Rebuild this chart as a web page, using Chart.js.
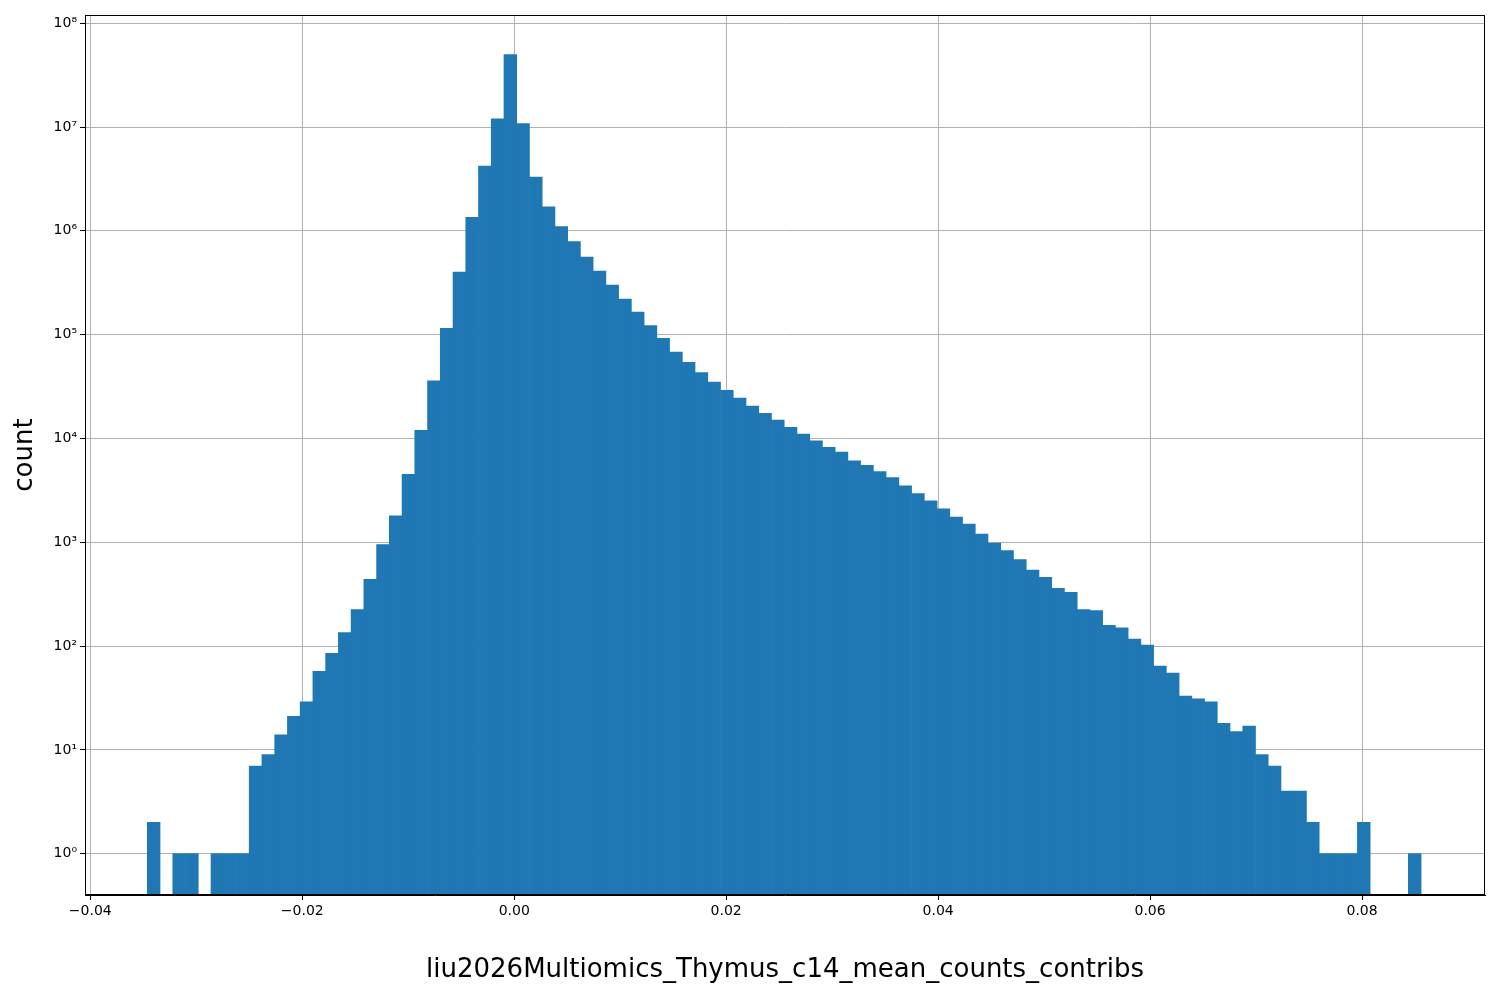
<!DOCTYPE html>
<html>
<head>
<meta charset="utf-8">
<script src="https://cdn.jsdelivr.net/npm/chart.js@4"></script>
<style>
  html, body { margin: 0; padding: 0; background: #fff; }
  #wrap { width: 1500px; height: 1000px; }
</style>
</head>
<body>
<div id="wrap"><canvas id="histChart" width="1500" height="1000"></canvas></div>
<script>
// histogram: 100 bins from binStart, width binWidth
const binStart = -0.03462;
const binWidth = 0.0012019;
const counts = [
  2, 0, 1, 1, 0, 1, 1, 1, 7, 9,
  14, 21, 29, 57, 85, 135, 225, 440, 950, 1800,
  4500, 12000, 36000, 115000, 400000, 1350000, 4200000, 12000000, 50000000, 10800000,
  3300000, 1700000, 1100000, 790000, 560000, 410000, 300000, 220000, 165000, 122000,
  92000, 68000, 54000, 43000, 35000, 29000, 24500, 20500, 17500, 15000,
  12800, 11000, 9500, 8200, 7400, 6100, 5500, 4800, 4200, 3500,
  2950, 2500, 2100, 1750, 1500, 1200, 980, 830, 680, 540,
  460, 360, 330, 225, 220, 158, 150, 117, 102, 64,
  55, 33, 31, 29, 18, 15, 17, 9, 7, 4,
  4, 2, 1, 1, 1, 2, 0, 0, 0, 1
];
const xTicks = [-0.04, -0.02, 0.00, 0.02, 0.04, 0.06, 0.08];
const yTicks = [1, 10, 100, 1e3, 1e4, 1e5, 1e6, 1e7, 1e8];
const sup = ['⁰','¹','²','³','⁴','⁵','⁶','⁷','⁸'];

const points = counts.map((c, i) => ({
  x: binStart + binWidth * (i + 0.5),
  y: c > 0 ? c : null
}));

const frame = {
  id: 'frame',
  afterDraw(chart) {
    const a = chart.chartArea, ctx = chart.ctx;
    ctx.save();
    ctx.strokeStyle = '#000';
    ctx.lineWidth = 1;
    ctx.strokeRect(a.left + 0.5, a.top + 0.5, a.width - 1, a.height - 1);
    ctx.restore();
  }
};

new Chart('histChart', {
  type: 'bar',
  data: {
    datasets: [{
      data: points,
      backgroundColor: '#1f77b4',
      borderWidth: 0,
      barPercentage: 1.0,
      categoryPercentage: 1.0
    }]
  },
  options: {
    responsive: false,
    animation: false,
    layout: { padding: { left: 10, right: 15, top: 15, bottom: 14 } },
    plugins: { legend: { display: false }, tooltip: { enabled: false } },
    scales: {
      x: {
        type: 'linear',
        offset: false,
        min: -0.0405,
        max: 0.0916,
        afterBuildTicks: s => { s.ticks = xTicks.map(v => ({ value: v })); },
        ticks: {
          color: '#000',
          font: { family: 'DejaVu Sans', size: 14 },
          maxRotation: 0,
          callback: v => (v < 0 ? '−' : '') + Math.abs(v).toFixed(2)
        },
        grid: { offset: false, color: '#b0b0b0', tickColor: '#000', tickLength: 5 },
        border: { color: '#000' },
        title: {
          display: true,
          text: 'liu2026Multiomics_Thymus_c14_mean_counts_contribs',
          color: '#000',
          font: { family: 'DejaVu Sans', size: 26 },
          padding: { top: 32, bottom: 0 }
        }
      },
      y: {
        type: 'logarithmic',
        min: 0.4,
        max: 1.2e8,
        afterBuildTicks: s => { s.ticks = yTicks.map(v => ({ value: v })); },
        afterFit: s => { s.width = 75; },
        ticks: {
          color: '#000',
          font: { family: 'DejaVu Sans', size: 14 },
          callback: v => '10' + sup[Math.round(Math.log10(v))]
        },
        grid: { color: '#b0b0b0', tickColor: '#000', tickLength: 5 },
        border: { color: '#000' },
        title: {
          display: true,
          text: 'count',
          color: '#000',
          font: { family: 'DejaVu Sans', size: 26 },
          padding: { top: 0, bottom: 8 }
        }
      }
    }
  },
  plugins: [frame]
});
</script>
</body>
</html>
